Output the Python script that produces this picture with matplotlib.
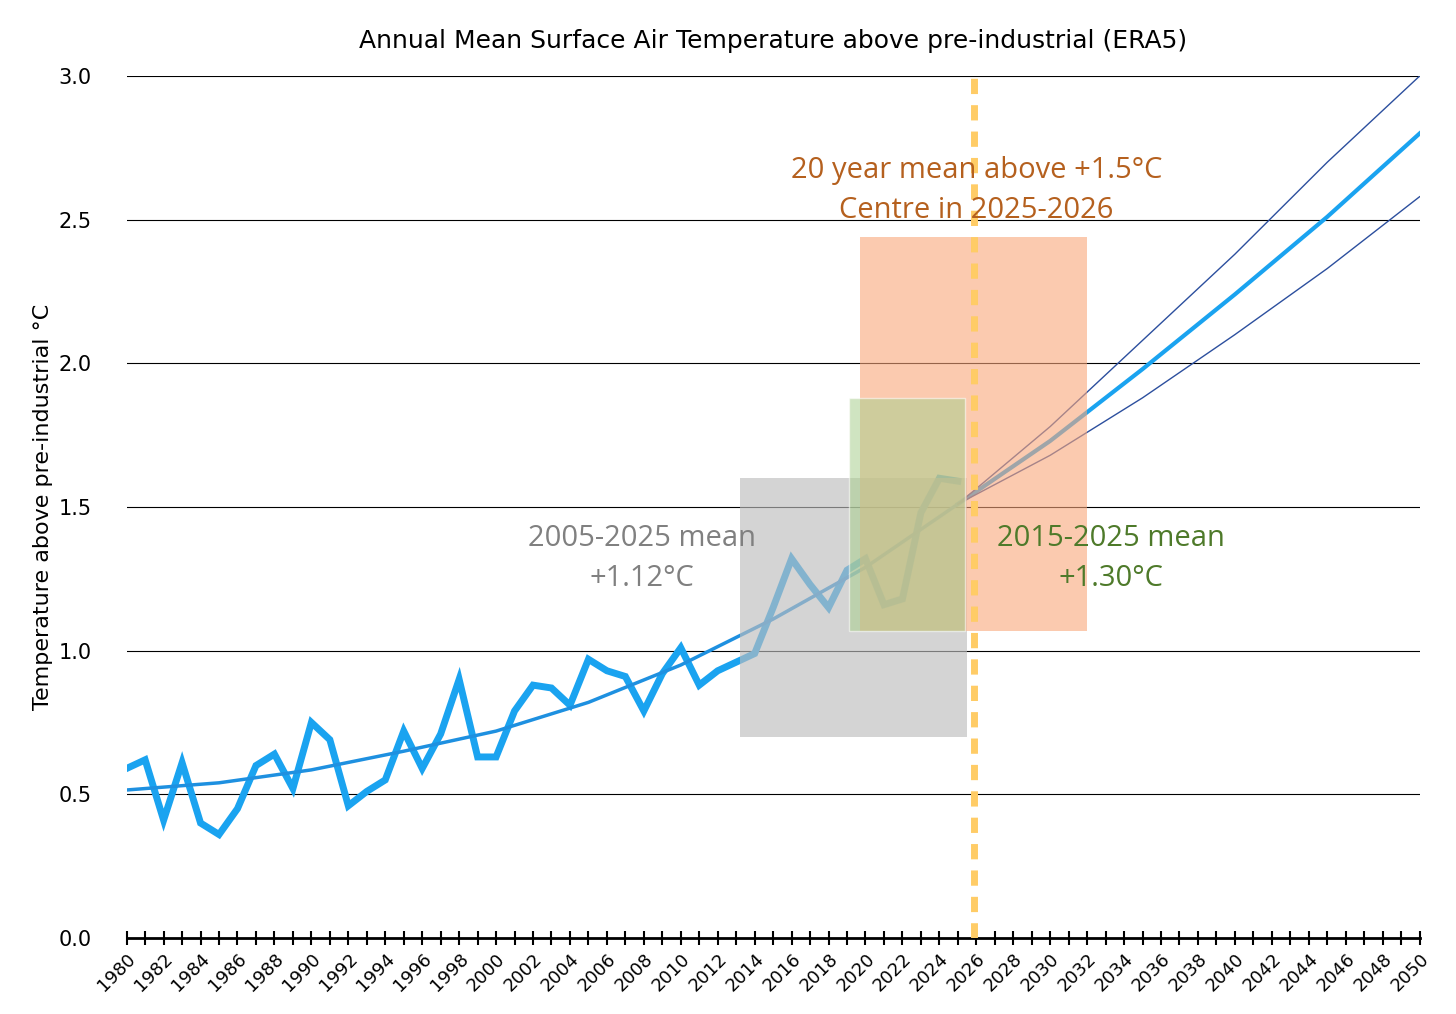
import matplotlib.pyplot as plt
from matplotlib.patches import Rectangle

years = list(range(1980, 2026))
temps = [0.59, 0.62, 0.41, 0.61, 0.40, 0.36, 0.45, 0.60, 0.64, 0.52,
         0.75, 0.69, 0.46, 0.51, 0.55, 0.72, 0.59, 0.71, 0.90, 0.63,
         0.63, 0.79, 0.88, 0.87, 0.81, 0.97, 0.93, 0.91, 0.79, 0.92,
         1.01, 0.88, 0.93, 0.96, 0.99, 1.15, 1.32, 1.23, 1.15, 1.28,
         1.32, 1.16, 1.18, 1.48, 1.60, 1.59]

trend_years = [1980, 1985, 1990, 1995, 2000, 2005, 2010, 2015, 2020, 2025]
trend = [0.515, 0.54, 0.585, 0.65, 0.72, 0.82, 0.95, 1.11, 1.29, 1.51]

proj_years = [2025, 2030, 2035, 2040, 2045, 2050]
proj_mid = [1.51, 1.73, 1.98, 2.24, 2.51, 2.80]
proj_hi = [1.51, 1.78, 2.08, 2.38, 2.70, 3.00]
proj_lo = [1.51, 1.68, 1.88, 2.10, 2.33, 2.58]

fig, ax = plt.subplots(figsize=(14.56, 10.14), dpi=100)
fig.subplots_adjust(left=0.087, right=0.975, top=0.925, bottom=0.075)

for y in [0.5, 1.0, 1.5, 2.0, 2.5, 3.0]:
    ax.axhline(y, color="black", lw=0.8, zorder=0)

ax.plot(years, temps, color="#1aa3f0", lw=5, zorder=2, solid_joinstyle="miter")
ax.plot(trend_years, trend, color="#1e90e0", lw=2.5, zorder=2)
ax.plot(proj_years, proj_mid, color="#1aa3f0", lw=3, zorder=2)
ax.plot(proj_years, proj_hi, color="#2c4f9e", lw=1, zorder=2)
ax.plot(proj_years, proj_lo, color="#2c4f9e", lw=1, zorder=2)

ax.add_patch(Rectangle((2013.2, 0.70), 12.3, 0.90, color="#bdbdbd", alpha=0.65, lw=0, zorder=3))
ax.add_patch(Rectangle((2019.7, 1.07), 12.3, 1.37, color="#f9a77a", alpha=0.6, lw=0, zorder=3))
ax.add_patch(Rectangle((2019.1, 1.07), 6.3, 0.81, facecolor="#a9cf8e", alpha=0.55,
                       edgecolor="white", lw=1, zorder=4))
ax.axvline(2025.9, color="#ffcc66", lw=5, ls=(0, (2.2, 1.6)), zorder=5)

ax.text(2026.0, 2.60, "20 year mean above +1.5°C\nCentre in 2025-2026", color="#b5601e",
        fontsize=21, ha="center", va="center", linespacing=1.5, family="Open Sans", zorder=6)
ax.text(2007.9, 1.32, "2005-2025 mean\n+1.12°C", color="#808080",
        fontsize=21, ha="center", va="center", linespacing=1.5, family="Open Sans", zorder=6)
ax.text(2033.3, 1.32, "2015-2025 mean\n+1.30°C", color="#4e7a2a",
        fontsize=21, ha="center", va="center", linespacing=1.5, family="Open Sans", zorder=6)

ax.set_xlim(1980, 2050)
ax.set_ylim(0, 3.0)
ax.set_yticks([0.0, 0.5, 1.0, 1.5, 2.0, 2.5, 3.0])
ax.set_yticklabels([f"{v:.1f}" for v in [0.0, 0.5, 1.0, 1.5, 2.0, 2.5, 3.0]], fontsize=15)
ax.set_xticks(range(1980, 2051, 2))
ax.set_xticklabels([str(y) for y in range(1980, 2051, 2)], rotation=45, fontsize=13,
                   ha="right", rotation_mode="anchor")
ax.set_xticks(range(1980, 2051), minor=True)
ax.tick_params(axis="x", which="both", direction="inout", length=10, width=1.5)
ax.tick_params(axis="y", length=0, pad=25)
for s in ["top", "right", "left"]:
    ax.spines[s].set_visible(False)
ax.spines["bottom"].set_linewidth(2)
ax.set_ylabel("Temperature above pre-industrial °C", fontsize=16)
ax.set_title("Annual Mean Surface Air Temperature above pre-industrial (ERA5)", fontsize=18, pad=20)

fig.savefig("out.png")
